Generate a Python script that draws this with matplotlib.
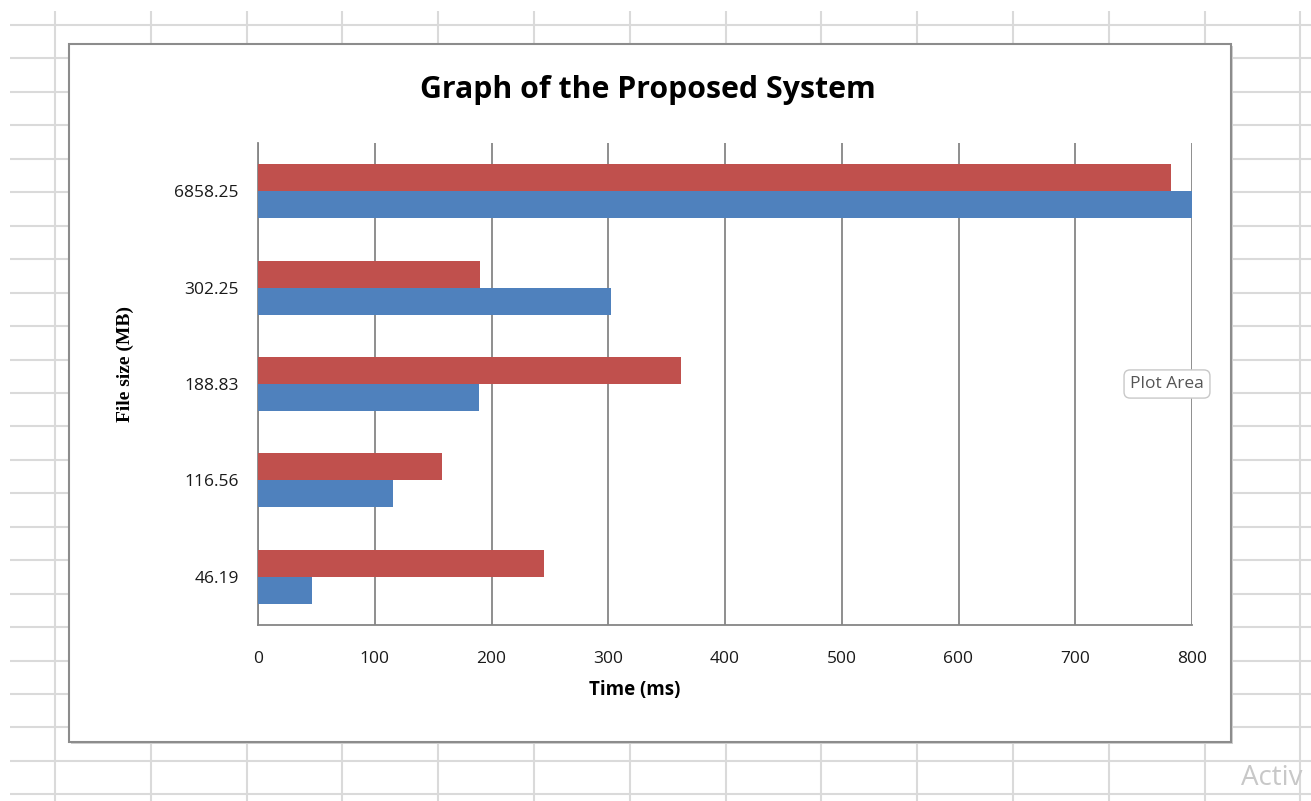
import matplotlib.pyplot as plt
from matplotlib.patches import Rectangle

# Data
file_sizes = ["46.19", "116.56", "188.83", "302.25", "6858.25"]
series_red = [245, 158, 362, 190, 782]
series_blue = [46, 116, 189, 302, 800]
x_ticks = [0, 100, 200, 300, 400, 500, 600, 700, 800]

RED = "#C0504D"
BLUE = "#4F81BD"
GRID = "#868686"

W, H = 1311, 801
fig = plt.figure(figsize=(W / 100, H / 100), dpi=100)
fig.patch.set_facecolor("white")

# spreadsheet cells behind the chart (screenshot background)
bg = fig.add_axes([0, 0, 1, 1], zorder=0)
bg.set_xlim(0, W)
bg.set_ylim(H, 0)
bg.axis("off")
rows = [25 + 33.45 * k for k in range(24)]
cols = [55 + 95.8 * k for k in range(14)]
bg.hlines(rows, 10, W, color="#DADADA", lw=1.5, zorder=1)
bg.vlines(cols, 11, H, color="#DADADA", lw=1.5, zorder=1)
# chart frame
bg.add_patch(Rectangle((71, 46), 1162, 698, facecolor="#D0D0D0", edgecolor="none", zorder=3))
bg.add_patch(Rectangle((69, 44), 1162, 698, facecolor="white", edgecolor="#8C8C8C",
                       lw=1.5, zorder=4))
bg.text(1241, 778, "Activ", fontsize=20, color="#C8C8C8", family="Open Sans",
        va="center", ha="left", zorder=5)

ax = fig.add_axes([258 / W, 1 - 625 / H, 934 / W, 482 / H], zorder=1)
ax.patch.set_alpha(0)

y = list(range(len(file_sizes)))
h = 0.28
ax.barh([v + h / 2 for v in y], series_red, height=h, color=RED, zorder=3)
ax.barh([v - h / 2 for v in y], series_blue, height=h, color=BLUE, zorder=3)

ax.set_xlim(0, 800)
ax.set_ylim(-0.5, len(file_sizes) - 0.5)
ax.set_xticks(x_ticks)
ax.set_yticks(y)
ax.set_yticklabels(file_sizes)
ax.xaxis.grid(True, color=GRID, lw=1.3, zorder=1)
ax.set_axisbelow(True)
for s in ["top", "right"]:
    ax.spines[s].set_visible(False)
for s in ["left", "bottom"]:
    ax.spines[s].set_color(GRID)
    ax.spines[s].set_linewidth(1.3)
ax.tick_params(axis="x", length=0, pad=19, labelsize=12.5, labelcolor="#1a1a1a")
ax.tick_params(axis="y", length=0, pad=14, labelsize=12.5, labelcolor="#1a1a1a")
for lab in ax.get_xticklabels() + ax.get_yticklabels():
    lab.set_family("Open Sans")

fig.text(648 / W, 1 - 90 / H, "Graph of the Proposed System", ha="center", va="center",
         fontsize=21.8, fontweight="bold", family="Open Sans", color="black")
fig.text(635 / W, 1 - 690 / H, "Time (ms)", ha="center", va="center",
         fontsize=13.5, fontweight="bold", family="Open Sans", color="black")
fig.text(125 / W, 1 - 364 / H, "File size (MB)", ha="center", va="center", rotation=90,
         fontsize=14, fontweight="bold", family="Liberation Serif", color="black")

# tooltip seen in the screenshot
fig.text(1167 / W, 1 - 384 / H, "Plot Area", ha="center", va="center", fontsize=12.5,
         family="Open Sans", color="#555555", zorder=5,
         bbox=dict(boxstyle="round,pad=0.35", facecolor="white", edgecolor="#C8C8C8"))

fig.savefig("out.png", dpi=100)
